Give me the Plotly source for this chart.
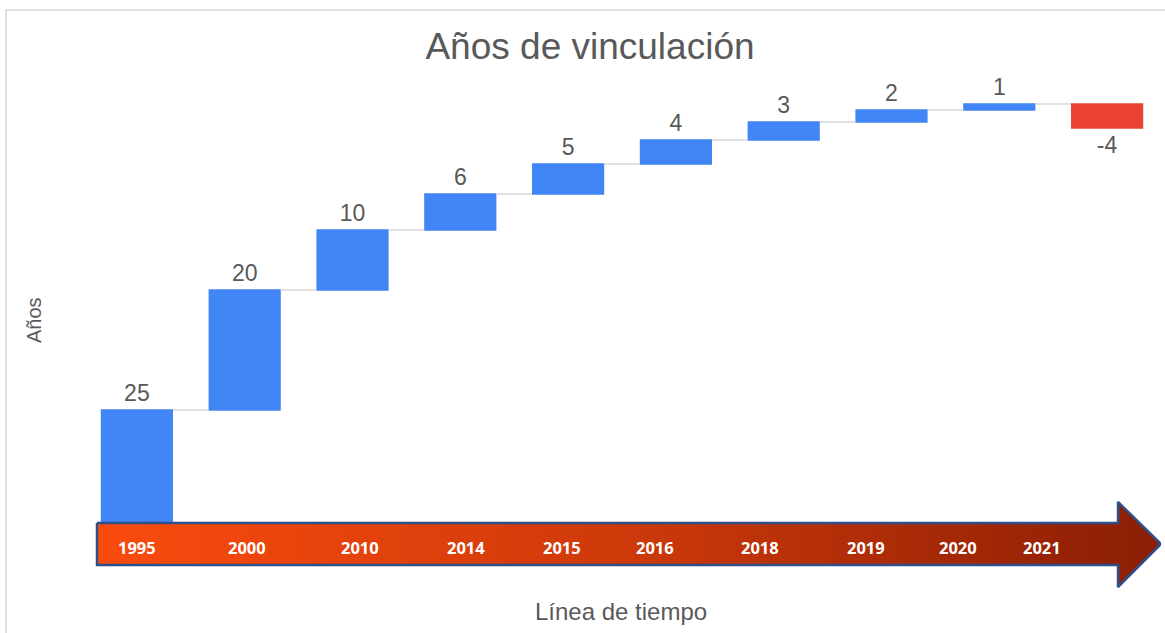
import plotly.graph_objects as go

# ---- data ----
years = ["1995", "2000", "2010", "2014", "2015", "2016", "2018", "2019", "2020", "2021"]
years_of_link = [25, 20, 10, 6, 5, 4, 3, 2, 1, -4]

# ---- layout geometry (pixels) ----
W, H = 1165, 633
ML, MR, MT, MB = 83, 4, 80, 43
PX0, PX1 = ML, W - MR          # plot area left / right in px
PY_TOP, PY_BOT = MT, H - MB    # plot area top / bottom in px

# arrow decoration (px coordinates of the overlay axes)
arrow_x = [97, 1118, 1118, 1161, 1118, 1118, 97, 97]
arrow_y = [523, 523, 502, 544, 587, 565, 565, 523]
arrow_label_x = [137, 247, 360, 466, 562, 655, 760, 866, 958, 1042]
arrow_label_y = 547

FONT = "Liberation Sans, Arial, sans-serif"
GRAY = "#595959"

fig = go.Figure()

fig.add_trace(go.Waterfall(
    x=years,
    y=years_of_link,
    measure=["relative"] * len(years_of_link),
    text=[str(v) for v in years_of_link],
    textinfo="text",
    textposition="outside",
    textfont=dict(family=FONT, size=23, color=GRAY),
    cliponaxis=False,
    increasing=dict(marker=dict(color="#4285F4")),
    decreasing=dict(marker=dict(color="#EA4335")),
    connector=dict(mode="between", line=dict(color="#D9D9D9", width=1.5)),
    hoverinfo="skip",
    showlegend=False,
))

# timeline arrow with horizontal gradient
fig.add_trace(go.Scatter(
    x=arrow_x, y=arrow_y,
    xaxis="x2", yaxis="y2",
    mode="lines",
    fill="toself",
    fillgradient=dict(type="horizontal",
                      colorscale=[[0, "#FA4B0E"], [0.5, "#CD390A"], [1, "#8A1E04"]]),
    line=dict(color="#2E4F8C", width=2.5),
    hoverinfo="skip",
    showlegend=False,
))

annotations = []
for lx, yr in zip(arrow_label_x, years):
    annotations.append(dict(
        x=lx, y=arrow_label_y, xref="x2", yref="y2", text=f"<b>{yr}</b>",
        showarrow=False, font=dict(family="Open Sans, sans-serif", size=16.5, color="white"),
        xanchor="center", yanchor="middle"))

pw = PX1 - PX0
ph = PY_BOT - PY_TOP


def px2paper_x(px):
    return (px - PX0) / pw


def px2paper_y(py):
    return (PY_BOT - py) / ph


annotations.append(dict(
    text="Años", textangle=-90, showarrow=False,
    x=px2paper_x(34), y=px2paper_y(320), xref="paper", yref="paper",
    xanchor="center", yanchor="middle",
    font=dict(family=FONT, size=20, color=GRAY)))
annotations.append(dict(
    text="Línea de tiempo", showarrow=False,
    x=px2paper_x(621), y=px2paper_y(611), xref="paper", yref="paper",
    xanchor="center", yanchor="middle",
    font=dict(family=FONT, size=24, color=GRAY)))

fig.update_layout(
    width=W, height=H,
    margin=dict(l=ML, r=MR, t=MT, b=MB, pad=0),
    paper_bgcolor="white", plot_bgcolor="white",
    title=dict(text="Años de vinculación", x=590 / W, xanchor="center",
               y=1 - 46 / H, yanchor="middle",
               font=dict(family=FONT, size=37, color=GRAY)),
    waterfallgap=0.33,
    xaxis=dict(visible=False, type="category"),
    yaxis=dict(visible=False, range=[-5, 80], showgrid=False, zeroline=False),
    xaxis2=dict(overlaying="x", anchor="y2", visible=False, range=[PX0, PX1]),
    yaxis2=dict(overlaying="y", anchor="x2", visible=False, range=[PY_BOT, PY_TOP]),
    annotations=annotations,
    shapes=[dict(type="rect", xref="paper", yref="paper",
                 x0=px2paper_x(6), x1=px2paper_x(W + 10),
                 y0=px2paper_y(H + 10), y1=px2paper_y(10),
                 line=dict(color="#D9D9D9", width=1.5), fillcolor="rgba(0,0,0,0)",
                 layer="below")],
)

fig.write_html("out.html",
               config={"displayModeBar": False},
               post_script="document.body.style.margin='0';document.body.style.padding='0';")
